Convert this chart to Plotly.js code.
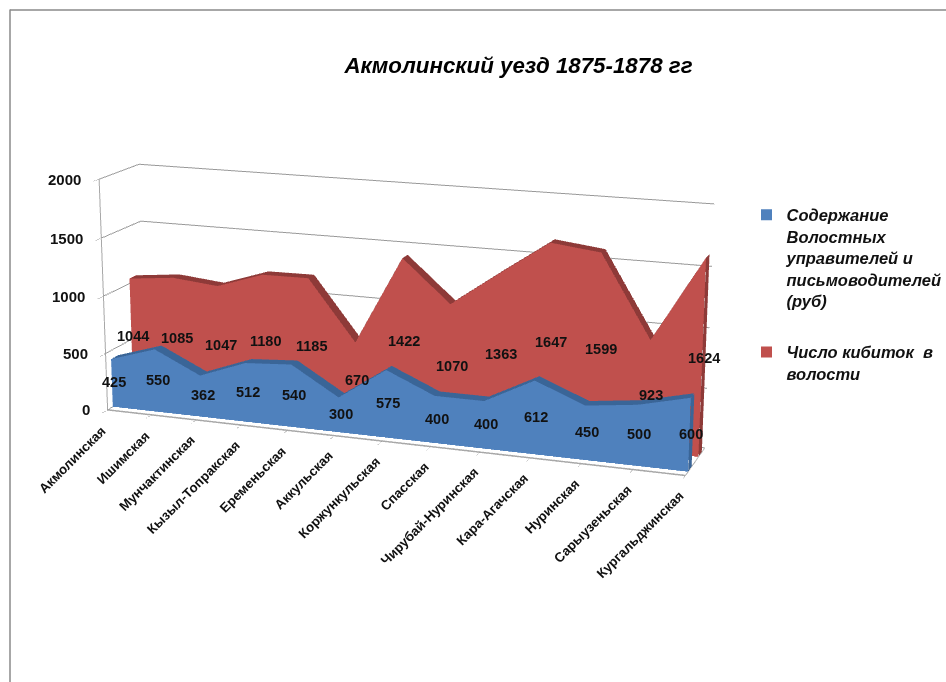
<!DOCTYPE html>
<html><head><meta charset="utf-8">
<script src="https://cdn.plot.ly/plotly-3.0.1.min.js"></script>
<style>html,body{margin:0;padding:0;background:#fff;overflow:hidden;width:946px;height:682px;position:relative}#c{position:absolute}</style>
</head><body><div id="c"></div>
<script>
var categories=["Акмолинская","Ишимская","Мунчактинская","Кызыл-Топракская","Еременьская","Аккульская","Коржункульская","Спасская","Чирубай-Нуринская","Кара-Агачская","Нуринская","Сарыузеньская","Кургальджинская"];
var salaries=[425,550,362,512,540,300,575,400,400,612,450,500,600];
var tents=[1044,1085,1047,1180,1185,670,1422,1070,1363,1647,1599,923,1624];
var zTicks=[0,500,1000,1500,2000];
var salaryName="Содержание<br>Волостных<br>управителей и<br>письмоводителей<br>(руб)";
var tentName="Число кибиток  в<br>волости";
var xs=categories.map(function(c,i){return i;});
var FF="Liberation Sans";
// the scene is larger than the window so that the fixed 45 degree lens gives a weak perspective
var k=2.5,W=Math.round(946*k),H=Math.round(682*k),cx=397,cy=311;
var left=cx-W/2,top_=cy-H/2;
var el=document.getElementById('c');el.style.left=left+'px';el.style.top=top_+'px';el.style.width=W+'px';el.style.height=H+'px';
function px(x){return (x-left)/W;} function py(y){return 1-(y-top_)/H;}
function ribbon(vals,y0,y1,front,top){
  var X=[],Y=[],Z=[],I=[],J=[],K=[],C=[];
  vals.forEach(function(v,i){X.push(i,i,i,i);Y.push(y0,y0,y1,y1);Z.push(0,v,0,v);});
  function tri(a,b,c,col){I.push(a);J.push(b);K.push(c);C.push(col);}
  for(var n=0;n<vals.length-1;n++){var a=n*4,b=a+4;
    tri(a,b,a+1,front);tri(a+1,b,b+1,front);
    tri(a+1,b+1,a+3,top);tri(a+3,b+1,b+3,top);
  }
  var e=(vals.length-1)*4;
  tri(e,e+2,e+1,top);tri(e+1,e+2,e+3,top);
  tri(0,2,1,front);tri(1,2,3,front);
  return {type:'mesh3d',x:X,y:Y,z:Z,i:I,j:J,k:K,facecolor:C,flatshading:true,showlegend:false,hoverinfo:'skip',
    lighting:{ambient:1,diffuse:0,specular:0,fresnel:0,roughness:1},showscale:false};
}
function legendKey(name,col,g){return {type:'scatter3d',mode:'markers',x:[null],y:[null],z:[null],name:name,legendgroup:g,
  marker:{symbol:'square',size:11,color:col},showlegend:true};}
var BY=[0.13,0.31], RY=[0.66,0.84];
var data=[ribbon(salaries,BY[0],BY[1],'#4f81bd','#3a6597'),ribbon(tents,RY[0],RY[1],'#c0504d','#8e3a38'),
  legendKey(salaryName,'#4f81bd','a'),legendKey(tentName,'#c0504d','b')];
var ann=[];
xs.forEach(function(i){
  ann.push({x:i,y:0,z:0,text:categories[i],showarrow:false,textangle:-45,xanchor:'right',yanchor:'top',xshift:4,yshift:-10,
    font:{family:FF,size:13.3,weight:700,color:'#111'}});
  ann.push({x:i,y:BY[0],z:salaries[i]/2,text:String(salaries[i]),showarrow:false,xshift:2,yshift:1,font:{family:FF,size:14.5,weight:700,color:'#111'}});
  ann.push({x:i,y:RY[0],z:tents[i]/2,text:String(tents[i]),showarrow:false,xshift:2,yshift:1,font:{family:FF,size:14.5,weight:700,color:'#111'}});
});
zTicks.forEach(function(v){ann.push({x:0,y:0,z:v,text:String(v),showarrow:false,xanchor:'right',xshift:-16,
  font:{family:FF,size:15,weight:700,color:'#111'}});});
var a=20*Math.PI/180,b=14.5*Math.PI/180,D=2.69*k;
var layout={width:W,height:H,margin:{l:0,r:0,t:0,b:0},paper_bgcolor:'#fff',
 title:{text:'Акмолинский уезд 1875-1878 гг',font:{family:FF,size:22.3,color:'#000',weight:700,style:'italic'},x:px(518),xanchor:'center',y:py(65),yanchor:'middle'},
 legend:{x:px(746),y:py(197),xanchor:'left',yanchor:'top',valign:'top',tracegroupgap:27,itemwidth:30,itemclick:false,
   font:{family:FF,size:16.5,weight:700,style:'italic',color:'#111'},bgcolor:'rgba(0,0,0,0)'},
 shapes:[{type:'line',xref:'paper',yref:'paper',x0:px(9.5),x1:px(9.5),y0:py(9),y1:py(682),line:{color:'#8a8a8a',width:1.5}},
         {type:'line',xref:'paper',yref:'paper',x0:px(9.5),x1:px(946),y0:py(9.5),y1:py(9.5),line:{color:'#8a8a8a',width:1.5}}],
 scene:{domain:{x:[0,1],y:[0,1]},dragmode:false,
  camera:{center:{x:0,y:0,z:0},up:{x:0,y:0,z:1},eye:{x:D*Math.sin(a)*Math.cos(b),y:-D*Math.cos(a)*Math.cos(b),z:D*Math.sin(b)}},
  aspectmode:'manual',aspectratio:{x:2,y:0.29,z:0.80},annotations:ann,
  xaxis:{range:[0,12],tickvals:xs,showticklabels:false,title:{text:''},showgrid:false,zeroline:false,showline:true,linecolor:'#a8a8a8',linewidth:3,ticks:'outside',ticklen:6,tickcolor:'#999',showspikes:false,showbackground:false},
  yaxis:{range:[0,1],showticklabels:false,title:{text:''},showgrid:false,zeroline:false,showline:true,linecolor:'#b0b0b0',linewidth:2,ticks:'',tickvals:[],showspikes:false,showbackground:false},
  zaxis:{range:[0,2000],tickvals:zTicks,showticklabels:false,title:{text:''},showgrid:true,gridcolor:'#999',gridwidth:2,zeroline:false,showline:true,linecolor:'#a8a8a8',linewidth:2,ticks:'outside',ticklen:5,tickcolor:'#999',showspikes:false,showbackground:false}}};
Plotly.newPlot('c',data,layout,{displayModeBar:false,plotGlPixelRatio:1});
</script></body></html>
